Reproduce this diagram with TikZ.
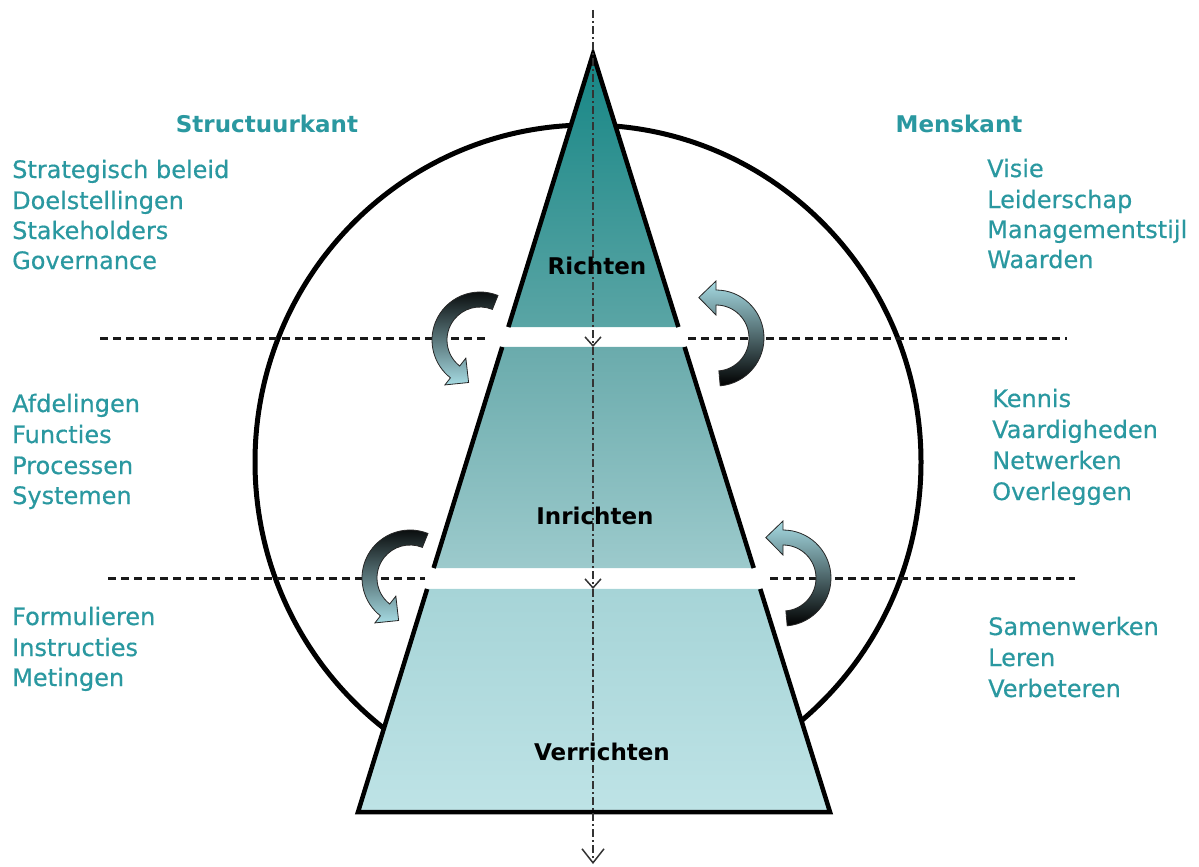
\documentclass[tikz,border=0pt]{standalone}
\usepackage{fontspec}
\setmainfont{DejaVu Sans}
\newfontfamily\listfont[FakeBold=0.5]{DejaVu Sans}
\usetikzlibrary{calc,arrows.meta}
\definecolor{tealtext}{HTML}{2A98A0}
\definecolor{pyrA}{HTML}{168685}
\definecolor{pyrB}{HTML}{5AA5A5}
\definecolor{pyrC}{HTML}{6AABAC}
\definecolor{pyrD}{HTML}{9CCACC}
\definecolor{pyrE}{HTML}{A6D4D7}
\definecolor{pyrF}{HTML}{BEE3E6}
\definecolor{arrowlight}{HTML}{A6DBE3}
\newcommand\ribbon[4]{%
  \pgfmathsetmacro\tipang{#3-23}%
  \shadedraw[#4, draw=black!85, line width=0.8pt]
    ($(#1)+(#2:48)$) arc[start angle=#2, end angle=#3, radius=48]
    -- ($(#1)+(#3:57)$) -- ($(#1)+(\tipang:44)$) -- ($(#1)+(#3:23)$)
    -- ($(#1)+(#3:33)$) arc[start angle=#3, end angle=#2, radius=33] -- cycle;
}
\begin{document}
\begin{tikzpicture}[x=1pt,y=-1pt,
  listtext/.style={text=tealtext, font=\listfont\fontsize{24}{28}\selectfont, anchor=base west, inner sep=0pt},
  headtext/.style={text=tealtext, font=\bfseries\fontsize{23}{28}\selectfont, anchor=base, inner sep=0pt},
  lvltext/.style={text=black, font=\bfseries\fontsize{23}{26}\selectfont, anchor=base, inner sep=0pt},
  axisline/.style={draw=black!80, line width=1.5pt, dash pattern=on 8pt off 3pt on 2pt off 3pt},
  divider/.style={draw=black!90, line width=3pt, dash pattern=on 8pt off 5pt},
  pyredge/.style={line width=4.5pt, line join=miter},
  leftarrow/.style={top color=black, middle color=arrowlight!70!black, bottom color=arrowlight},
  rightarrow/.style={top color=arrowlight, middle color=arrowlight!70!black, bottom color=black},
]
\useasboundingbox (0,0) rectangle (1199,867);
% circle
\draw[line width=5pt] (588,462) ellipse [x radius=333, y radius=337];
% pyramid
\coordinate (A) at (593,54);
\coordinate (BL) at (358,812);
\coordinate (BR) at (830,812);
\coordinate (L1) at ($(A)!0.3602!(BL)$);
\coordinate (R1) at ($(A)!0.3602!(BR)$);
\coordinate (L2) at ($(A)!0.3865!(BL)$);
\coordinate (R2) at ($(A)!0.3865!(BR)$);
\coordinate (L3) at ($(A)!0.6781!(BL)$);
\coordinate (R3) at ($(A)!0.6781!(BR)$);
\coordinate (L4) at ($(A)!0.7058!(BL)$);
\coordinate (R4) at ($(A)!0.7058!(BR)$);
\shade[top color=pyrA, bottom color=pyrB] (A) -- (R1) -- (L1) -- cycle;
\shade[top color=pyrC, bottom color=pyrD] (L2) -- (R2) -- (R3) -- (L3) -- cycle;
\shade[top color=pyrE, bottom color=pyrF] (L4) -- (R4) -- (BR) -- (BL) -- cycle;
\draw[pyredge] (L1) -- (A) -- (R1);
\draw[pyredge] (L2) -- (L3);
\draw[pyredge] (R2) -- (R3);
\draw[pyredge] (L4) -- (BL) -- (BR) -- (R4);
% axis
\coordinate (X0) at (593,10);
\coordinate (X1) at (593,347);
\coordinate (X2) at (593,589);
\coordinate (X3) at (593,864);
\draw[axisline, -{Straight Barb[length=9pt,width=16pt]}] (X0) -- (X1);
\draw[axisline, -{Straight Barb[length=9pt,width=16pt]}] (X1) -- (X2);
\draw[axisline, -{Straight Barb[length=14pt,width=22pt]}] (X2) -- (X3);
% dividers
\coordinate (D1a) at (100,338);
\coordinate (D1b) at (485,338);
\coordinate (D1c) at (688,338);
\coordinate (D1d) at (1067,338);
\coordinate (D2a) at (108,578);
\coordinate (D2b) at (425,578);
\coordinate (D2c) at (770,578);
\coordinate (D2d) at (1075,578);
\draw[divider] (D1a) -- (D1b);
\draw[divider] (D1c) -- (D1d);
\draw[divider] (D2a) -- (D2b);
\draw[divider] (D2c) -- (D2d);
% curved arrows
\coordinate (C1) at (480,340);
\coordinate (C2) at (716,338);
\coordinate (C3) at (410,578);
\coordinate (C4) at (783,578);
\ribbon{C1}{292}{128}{leftarrow}
\ribbon{C2}{85}{-90}{rightarrow}
\ribbon{C3}{292}{128}{leftarrow}
\ribbon{C4}{85}{-90}{rightarrow}
% level labels
\node[lvltext] (richten) at (597,274) {Richten};
\node[lvltext] (inrichten) at (595,524) {Inrichten};
\node[lvltext] (verrichten) at (602,760) {Verrichten};
% headings
\node[headtext] (structuur) at (267,132) {Structuurkant};
\node[headtext] (mens) at (959,132) {Menskant};
% left lists
\node[listtext] (s1) at (12,178) {Strategisch beleid};
\node[listtext] (s2) at (12,209) {Doelstellingen};
\node[listtext] (s3) at (12,239) {Stakeholders};
\node[listtext] (s4) at (12,269) {Governance};
\node[listtext] (a1) at (12,412) {Afdelingen};
\node[listtext] (a2) at (12,443) {Functies};
\node[listtext] (a3) at (12,474) {Processen};
\node[listtext] (a4) at (12,504) {Systemen};
\node[listtext] (f1) at (12,625) {Formulieren};
\node[listtext] (f2) at (12,656) {Instructies};
\node[listtext] (f3) at (12,686) {Metingen};
% right lists
\node[listtext] (m1) at (987,177) {Visie};
\node[listtext] (m2) at (987,208) {Leiderschap};
\node[listtext] (m3) at (987,238) {Managementstijl};
\node[listtext] (m4) at (987,268) {Waarden};
\node[listtext] (k1) at (992,407) {Kennis};
\node[listtext] (k2) at (992,438) {Vaardigheden};
\node[listtext] (k3) at (992,469) {Netwerken};
\node[listtext] (k4) at (992,500) {Overleggen};
\node[listtext] (w1) at (988,635) {Samenwerken};
\node[listtext] (w2) at (988,666) {Leren};
\node[listtext] (w3) at (988,697) {Verbeteren};
\end{tikzpicture}
\end{document}
